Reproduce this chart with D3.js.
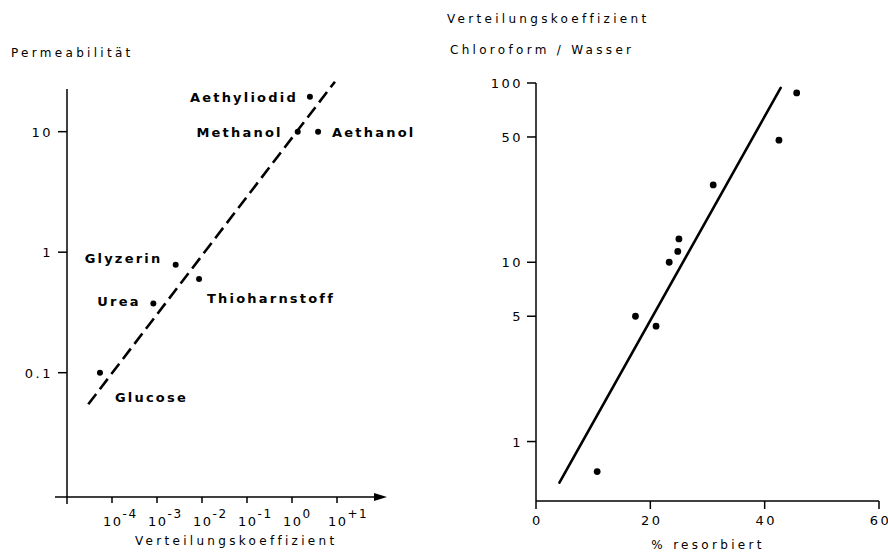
<!DOCTYPE html>
<html>
<head>
<meta charset="utf-8">
<script src="https://cdn.jsdelivr.net/npm/d3@7/dist/d3.min.js"></script>
<style>
  html, body { margin: 0; padding: 0; background: #fff; }
  svg { display: block; }
  .lbl { font-family: "DejaVu Sans", sans-serif; font-size: 12px; letter-spacing: 3.3px; fill: #000; }
  .tick { font-family: "DejaVu Sans", sans-serif; font-size: 13px; letter-spacing: 2.5px; fill: #000; }
  .name { font-family: "DejaVu Sans", sans-serif; font-size: 13px; font-weight: bold; letter-spacing: 2.2px; fill: #000; }
</style>
</head>
<body>
<svg id="chart" width="888" height="553"></svg>
<script>
// ---- Left panel: permeability vs. partition coefficient (log/log) ----
const substances   = ["Aethyliodid", "Methanol", "Aethanol", "Glyzerin", "Thioharnstoff", "Urea", "Glucose"];
const partitionK   = [2.5, 1.34, 3.8, 0.0026, 0.0086, 0.00083, 0.000054];
const permeability = [19.5, 10, 10, 0.785, 0.6, 0.375, 0.1];
// label side: "end" = text left of the dot, "start" = text right of/under it
const labelAnchor  = ["end", "end", "start", "start", "start", "start", "start"];
const trendK       = [0.0000297, 9.0];
const trendP       = [0.0547, 26];
const permTicks    = [0.1, 1, 10];
const permTickText = ["0.1", "1", "10"];
const kTicks       = [1e-4, 1e-3, 1e-2, 1e-1, 1, 10];
const kTickExp     = ["-4", "-3", "-2", "-1", "0", "+1"];

// ---- Right panel: chloroform/water coefficient vs. % absorbed ----
const resorbed     = [45.6, 42.5, 31.0, 25.0, 24.8, 23.3, 17.4, 21.0, 10.7];
const chloroWater  = [88, 48, 27, 13.5, 11.5, 10, 5, 4.4, 0.68];
const fitX         = [4.1, 42.8];
const fitY         = [0.59, 94];
const cwTicks      = [1, 5, 10, 50, 100];
const resTicks     = [0, 20, 40, 60];

const svg = d3.select("#chart");

// ===== Left panel =====
const lx = d3.scaleLog().domain([1e-5, 10]).range([67, 337]);
const ly = d3.scaleLog().domain([0.0093, 22.6]).range([497, 89]);
const L = svg.append("g");

// y axis (with a short stub below the x axis at the origin)
L.append("line").attr("x1", lx(1e-5)).attr("x2", lx(1e-5))
  .attr("y1", ly.range()[1]).attr("y2", ly.range()[0] + 7)
  .attr("stroke", "#000").attr("stroke-width", 1.5);
// x axis with arrow head
const axEndX = lx(10) + 50;
L.append("line").attr("x1", lx(1e-5) - 12).attr("x2", axEndX - 10)
  .attr("y1", ly.range()[0]).attr("y2", ly.range()[0])
  .attr("stroke", "#000").attr("stroke-width", 1.5);
L.append("path")
  .attr("d", `M${axEndX},${ly.range()[0]} L${axEndX - 13},${ly.range()[0] - 4} L${axEndX - 13},${ly.range()[0] + 4} Z`)
  .attr("fill", "#000");

// y ticks
permTicks.forEach((v, i) => {
  L.append("line").attr("x1", lx(1e-5) - 9).attr("x2", lx(1e-5))
    .attr("y1", ly(v)).attr("y2", ly(v)).attr("stroke", "#000").attr("stroke-width", 1.5);
  L.append("text").attr("class", "tick").attr("text-anchor", "end")
    .attr("x", lx(1e-5) - 14).attr("y", ly(v) + 5).text(permTickText[i]);
});
// x ticks with power-of-ten labels
kTicks.forEach((v, i) => {
  L.append("line").attr("x1", lx(v)).attr("x2", lx(v))
    .attr("y1", ly.range()[0]).attr("y2", ly.range()[0] + 6)
    .attr("stroke", "#000").attr("stroke-width", 1.5);
  const t = L.append("text").attr("class", "tick").style("letter-spacing", "1.5px")
    .attr("x", lx(v) - 9).attr("y", ly.range()[0] + 29);
  t.append("tspan").text("10");
  t.append("tspan").attr("dy", -8).style("font-size", "12px").text(kTickExp[i]);
});

// titles
L.append("text").attr("class", "lbl").attr("x", 11).attr("y", 57).text("Permeabilität");
L.append("text").attr("class", "lbl").attr("x", 135).attr("y", 545).text("Verteilungskoeffizient");

// dashed trend line
L.append("line")
  .attr("x1", lx(trendK[0])).attr("y1", ly(trendP[0]))
  .attr("x2", lx(trendK[1])).attr("y2", ly(trendP[1]))
  .attr("stroke", "#000").attr("stroke-width", 2.6)
  .attr("stroke-dasharray", "13,6");

// points and names
const labelOffset = {
  "Aethyliodid":   [-12, 5],
  "Methanol":      [-15, 5],
  "Aethanol":      [14, 5],
  "Glyzerin":      [-91, -2],
  "Thioharnstoff": [8, 24],
  "Urea":          [-56, 2],
  "Glucose":       [15, 29]
};
substances.forEach((s, i) => {
  L.append("circle").attr("cx", lx(partitionK[i])).attr("cy", ly(permeability[i]))
    .attr("r", 3).attr("fill", "#000");
  const off = labelOffset[s];
  L.append("text").attr("class", "name").attr("text-anchor", labelAnchor[i])
    .attr("x", lx(partitionK[i]) + off[0]).attr("y", ly(permeability[i]) + off[1])
    .text(s);
});

// ===== Right panel =====
const rx = d3.scaleLinear().domain([0, 60]).range([536, 879]);
const ry = d3.scaleLog().domain([0.466, 100]).range([501, 83]);
const R = svg.append("g");

R.append("line").attr("x1", rx(0)).attr("x2", rx(0))
  .attr("y1", ry(100)).attr("y2", ry.range()[0])
  .attr("stroke", "#000").attr("stroke-width", 1.5);
R.append("line").attr("x1", rx(0)).attr("x2", rx(60))
  .attr("y1", ry.range()[0]).attr("y2", ry.range()[0])
  .attr("stroke", "#000").attr("stroke-width", 1.5);

cwTicks.forEach(v => {
  R.append("line").attr("x1", rx(0) - 9).attr("x2", rx(0))
    .attr("y1", ry(v)).attr("y2", ry(v)).attr("stroke", "#000").attr("stroke-width", 1.5);
  R.append("text").attr("class", "tick").attr("text-anchor", "end")
    .attr("x", rx(0) - 13).attr("y", ry(v) + 5).text(v);
});
resTicks.forEach(v => {
  R.append("line").attr("x1", rx(v)).attr("x2", rx(v))
    .attr("y1", ry.range()[0]).attr("y2", ry.range()[0] + 8)
    .attr("stroke", "#000").attr("stroke-width", 1.5);
  R.append("text").attr("class", "tick").attr("text-anchor", "middle")
    .attr("x", rx(v) + 1.5).attr("y", ry.range()[0] + 24).text(v);
});

R.append("text").attr("class", "lbl").attr("x", 447).attr("y", 23).text("Verteilungskoeffizient");
R.append("text").attr("class", "lbl").attr("x", 450).attr("y", 54).text("Chloroform / Wasser");
R.append("text").attr("class", "lbl").attr("text-anchor", "middle")
  .attr("x", 708).attr("y", 549).text("% resorbiert");

// regression line
R.append("line")
  .attr("x1", rx(fitX[0])).attr("y1", ry(fitY[0]))
  .attr("x2", rx(fitX[1])).attr("y2", ry(fitY[1]))
  .attr("stroke", "#000").attr("stroke-width", 2.6).attr("stroke-linecap", "round");

R.selectAll("circle.pt").data(resorbed).enter().append("circle")
  .attr("class", "pt")
  .attr("cx", d => rx(d))
  .attr("cy", (d, i) => ry(chloroWater[i]))
  .attr("r", 3.4).attr("fill", "#000");
</script>
</body>
</html>
